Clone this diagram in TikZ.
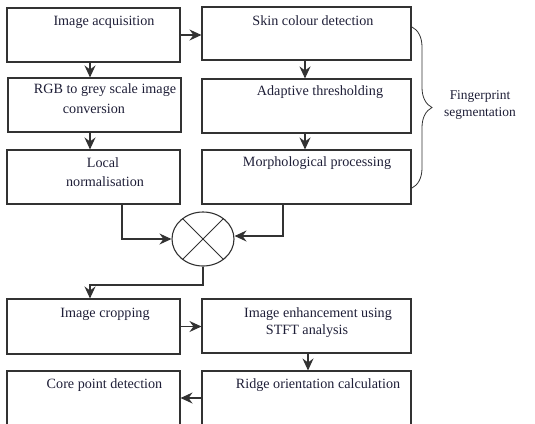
\documentclass[tikz,border=0pt]{standalone}
\usepackage{fontspec}
\setmainfont{Liberation Serif}
\usetikzlibrary{arrows.meta,shapes.geometric,decorations.pathreplacing}
\definecolor{txt}{RGB}{30,30,55}
\definecolor{ln}{RGB}{50,50,50}
\begin{document}
\begin{tikzpicture}[x=1bp,y=-1bp,
  box/.style={draw=ln,line width=1.1bp,inner sep=0pt,minimum height=54bp},
  lbox/.style={box,minimum width=173bp},
  rbox/.style={box,minimum width=209bp},
  lab/.style={text=txt,font=\fontsize{14.2}{17}\selectfont,inner sep=0pt},
  arr/.style={draw=ln,line width=1.1bp,-{Stealth[length=12bp,width=11bp,inset=4bp]}}]
\useasboundingbox (0,0) rectangle (535,423);
% boxes
\node[lbox] (L1) at (93.5,35) {};
\node[lbox] (L2) at (94.5,105) {};
\node[lbox] (L3) at (93.5,177) {};
\node[rbox,minimum height=53bp] (R1) at (306.5,33.5) {};
\node[rbox] (R2) at (306.5,106) {};
\node[rbox] (R3) at (306.5,177) {};
\node[lbox,minimum height=55bp] (C1) at (93.5,326.5) {};
\node[rbox] (C2) at (306.5,326) {};
\node[lbox] (D1) at (93.5,398) {};
\node[rbox] (D2) at (306.5,398) {};
% texts
\node[lab] (tL1) at (104,22) {Image acquisition};
\node[lab] (tL2a) at (105,90) {RGB to grey scale image};
\node[lab] (tL2b) at (94,109) {conversion};
\node[lab] (tL3a) at (103,163) {Local};
\node[lab] (tL3b) at (105,182) {normalisation};
\node[lab] (tR1) at (313,21) {Skin colour detection};
\node[lab] (tR2) at (320,92) {Adaptive thresholding};
\node[lab] (tR3) at (317,163) {Morphological processing};
\node[lab] (tC1) at (105,314) {Image cropping};
\node[lab] (tC2a) at (318,314) {Image enhancement using};
\node[lab] (tC2b) at (307,331) {STFT analysis};
\node[lab] (tD1) at (104.5,385) {Core point detection};
\node[lab] (tD2) at (318,385) {Ridge orientation calculation};
\node[lab,font=\fontsize{13.5}{17}\selectfont] (fs1) at (480,96) {Fingerprint};
\node[lab,font=\fontsize{13.5}{17}\selectfont] (fs2) at (480,113) {segmentation};
% merge
\node[draw=ln,line width=1.1bp,ellipse,minimum width=62bp,minimum height=54bp,inner sep=0pt] (M) at (203,239) {};
\draw[ln,line width=1bp] (M.45) -- (M.225) (M.135) -- (M.315);
% brace
\coordinate (b1) at (412,27);
\coordinate (b2) at (412,188);
\draw[ln,line width=0.8bp,decorate,decoration={brace,amplitude=20bp}] (b1) -- (b2);
% arrows
\draw[arr] (L1.east) -- (L1.east -| R1.west);
\draw[arr] ([xshift=-3.5bp]L1.south) -- ([xshift=-3.5bp]L1.south |- L2.north);
\draw[arr] ([xshift=-4.5bp]L2.south) -- ([xshift=-4.5bp]L2.south |- L3.north);
\draw[arr] ([xshift=-1.5bp]R1.south) -- ([xshift=-1.5bp]R1.south |- R2.north);
\draw[arr] ([xshift=-1.5bp]R2.south) -- ([xshift=-1.5bp]R2.south |- R3.north);
\draw[arr] ([xshift=28.5bp]L3.south) |- (M.west);
\draw[arr] ([xshift=-23.5bp]R3.south) |- ([yshift=3bp]M.east);
\coordinate (j) at (90,285);
\draw[arr] (M.south) |- (j) -- (j |- C1.north);
\draw[arr] (C1.east) -- (C1.east -| C2.west);
\draw[arr] ([xshift=1.5bp]C2.south) -- ([xshift=1.5bp]C2.south |- D2.north);
\draw[arr] (D2.west) -- (D2.west -| D1.east);
\end{tikzpicture}
\end{document}
